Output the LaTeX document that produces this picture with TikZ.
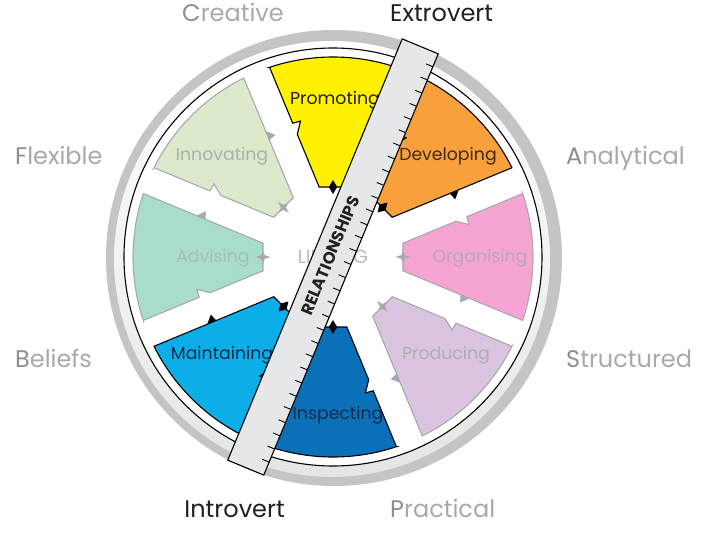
\documentclass[tikz,border=0pt]{standalone}
\usepackage{fontspec}
\setmainfont{Poppins}
\usepackage{xcolor}
\usetikzlibrary{calc}
\definecolor{promYellow}{HTML}{FFF100}
\definecolor{devOrange}{HTML}{F8A13C}
\definecolor{orgPink}{HTML}{F5A4D3}
\definecolor{prodLilac}{HTML}{DAC4E0}
\definecolor{inspBlue}{HTML}{0A71B9}
\definecolor{maintCyan}{HTML}{0CAEE8}
\definecolor{advMint}{HTML}{A8DCCB}
\definecolor{innoGreen}{HTML}{DCE9CB}
\definecolor{edgeGray}{HTML}{A7A9AC}
\definecolor{ringDark}{HTML}{C3C4C6}
\definecolor{ringLight}{HTML}{E4E5E6}
\definecolor{rulerGray}{HTML}{E6E7E8}
\definecolor{labelGray}{HTML}{A7A9AC}
\definecolor{initialGray}{HTML}{8C8E91}
\definecolor{inkBlack}{HTML}{231F20}
\definecolor{inkNavy}{HTML}{1B2A48}
\definecolor{inkBrown}{HTML}{3C2A1C}

\newcommand{\traitword}[2]{\textcolor{initialGray}{#1}#2}

\begin{document}
\begin{tikzpicture}[x=1pt,y=1pt,
    wedge/.style={line width=1.1pt,line join=miter},
    role/.style={inner sep=0pt,font=\fontsize{17.3}{17.3}\selectfont},
    trait/.style={inner sep=0pt,text=labelGray,font=\fontsize{24}{24}\selectfont}]

  \fill[white] (-333,-276) rectangle (369,257);
  \useasboundingbox (-333,-276) rectangle (369,257);

  % rim of the wheel
  \fill[ringDark] (1,-1) circle (228);
  \shade[top color=white,middle color=ringLight,bottom color=ringLight] (-1,-2) circle (218);
  \draw[line width=1.1pt,fill=white] (0,0) circle (209);

  % the eight roles, all drawn from the top one
  \foreach \ang/\fillc/\linec/\mark in {90/promYellow/black/0,45/devOrange/black/0,
      0/orgPink/edgeGray/1,-45/prodLilac/edgeGray/1,-90/inspBlue/black/0,
      -135/maintCyan/black/0,180/advMint/edgeGray/1,135/innoGreen/edgeGray/1}{
    \begin{scope}[rotate=\ang-90]
      \filldraw[wedge,fill=\fillc,draw=\linec] (-63.42,189.68) -- (-40.26,133.78)
        -- (-32.49,135.92) -- (-35.67,122.69) -- (-13.85,70) -- (13.85,70)
        -- (63.42,189.68) arc[start angle=71.51,end angle=108.49,radius=200]
        -- cycle;
      \fill[\linec] (37.6,127.4) -- (41.4,136.4) -- (45.6,127.2) -- cycle;
      \ifnum\mark=0
        \fill[\linec] (0,77) -- (4.2,70) -- (0,63) -- (-4.2,70) -- cycle;
      \else
        \fill[\linec] (0,77.5) -- (1.8,71.8) -- (6,70) -- (1.8,68.2) -- (0,62.5)
          -- (-1.8,68.2) -- (-6,70) -- (-1.8,71.8) -- cycle;
      \fi
    \end{scope}
  }

  \node[role,text=inkBlack] (promoting) at (2,157) {Promoting};
  \node[role,text=inkBrown] (developing) at (115,101) {Developing};
  \node[role,text=labelGray!75!orgPink] (organising) at (147,-1) {Organising};
  \node[role,text=labelGray!85!prodLilac] (producing) at (113,-98) {Producing};
  \node[role,text=inkNavy] (inspecting) at (5,-158) {Inspecting};
  \node[role,text=inkNavy] (maintaining) at (-111,-98) {Maintaining};
  \node[role,text=labelGray!60!advMint] (advising) at (-120,-1) {Advising};
  \node[role,text=labelGray!90!innoGreen] (innovating) at (-111,101) {Innovating};
  \node[role,text=labelGray!80,font=\fontsize{19}{19}\selectfont] (linking) at (0,0) {LINKING};

  % relationships ruler
  \begin{scope}[rotate=67.5]
    \filldraw[fill=rulerGray,line width=1.1pt] (-228,-19.5) rectangle (228,19.5);
    \foreach \k in {0,...,30}
      \draw[line width=0.9pt] ({-214+14.267*\k},-19.5) -- ++(0,7.5);
  \end{scope}
  \node[rotate=67.5,inner sep=0pt,text=inkBlack,
    font=\bfseries\fontsize{16.5}{16.5}\selectfont] (relationships) at (-2.8,1.1) {RELATIONSHIPS};

  % work preference measures round the wheel
  \node[trait,anchor=base east] (creative) at (-49,235) {\traitword{C}{reative}};
  \node[trait,anchor=base west,text=inkBlack] (extrovert) at (57,235) {Extrovert};
  \node[trait,anchor=base west] (flexible) at (-318,92) {\traitword{F}{lexible}};
  \node[trait,anchor=base west] (analytical) at (233,92) {\traitword{A}{nalytical}};
  \node[trait,anchor=base west] (beliefs) at (-318,-110) {\traitword{B}{eliefs}};
  \node[trait,anchor=base west] (structured) at (233,-110) {\traitword{S}{tructured}};
  \node[trait,anchor=base east,text=inkBlack] (introvert) at (-48,-260) {Introvert};
  \node[trait,anchor=base west] (practical) at (57,-260) {\traitword{P}{ractical}};
\end{tikzpicture}
\end{document}
